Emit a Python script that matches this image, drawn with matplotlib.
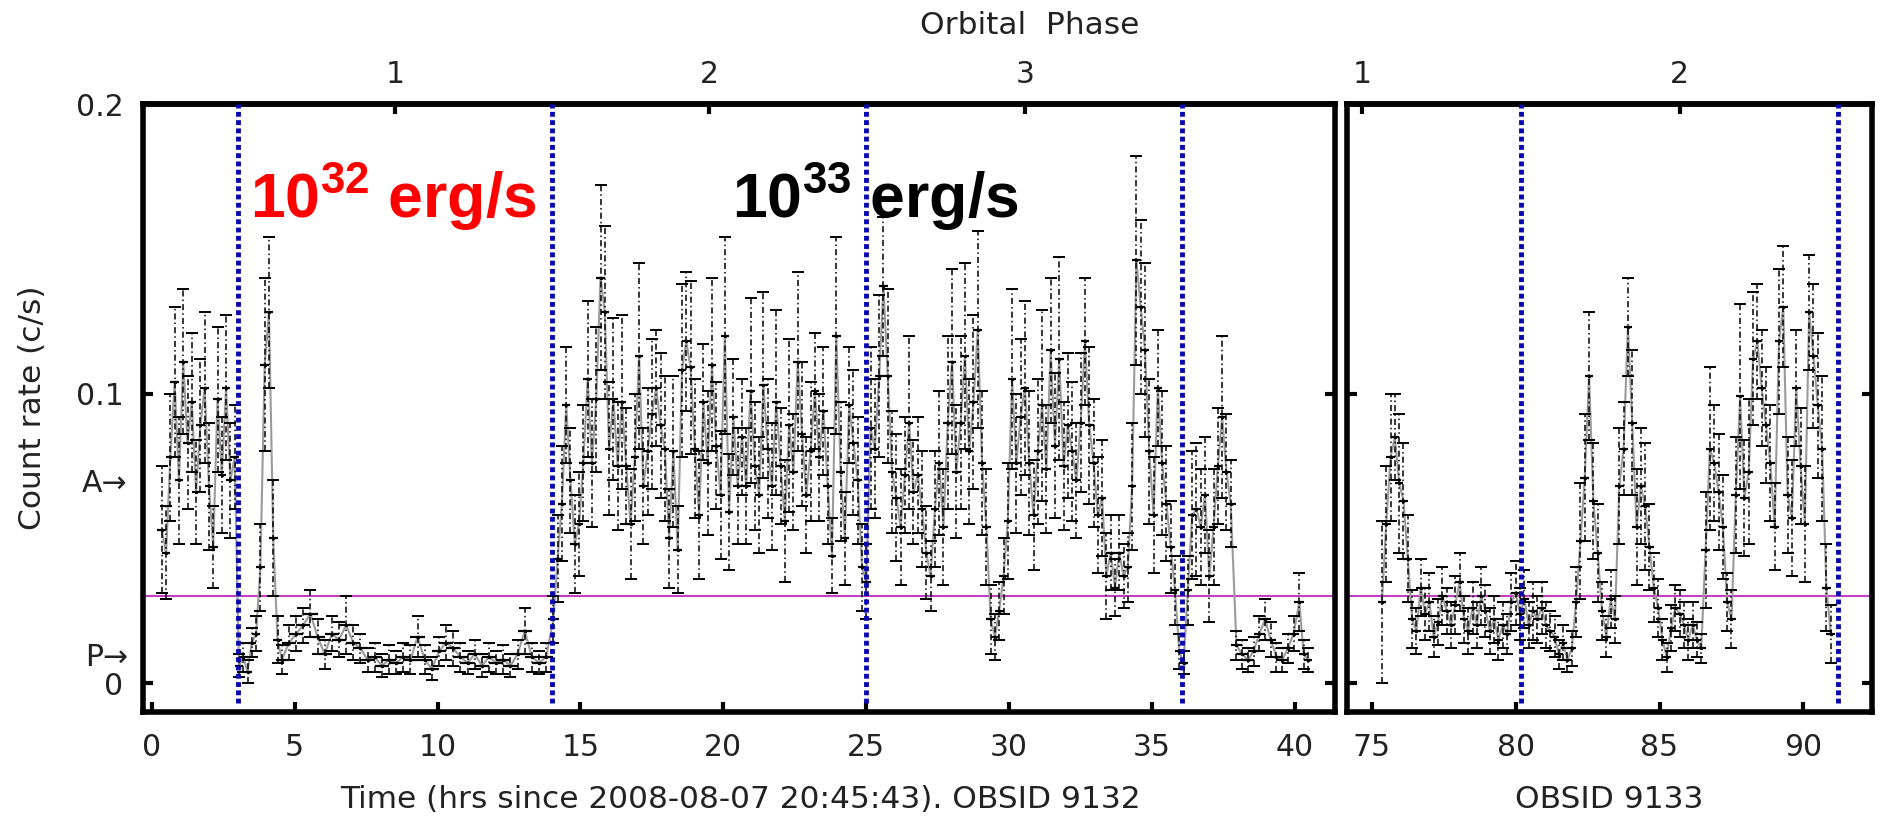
import numpy as np
import matplotlib
matplotlib.use('Agg')
import matplotlib.pyplot as plt

plt.rcParams['font.family'] = ['DejaVu Sans']
plt.rcParams['mathtext.fontset'] = 'custom'
plt.rcParams['mathtext.bf'] = 'Liberation Sans:bold'
plt.rcParams['mathtext.rm'] = 'Liberation Sans'

# ---- OBSID 9132 (hrs since 2008-08-07 20:45:43) ----
t_9132 = [
    0.35, 0.50, 0.65, 0.80, 0.95, 1.10, 1.25, 1.40, 1.55, 1.70, 1.85, 2.00, 2.15, 2.30, 2.45, 2.60, 2.75, 2.90,
    3.05, 3.20, 3.35, 3.50, 3.65, 3.80, 3.95, 4.10, 4.25, 4.40,
    4.55, 4.80, 5.05, 5.30, 5.55, 5.80, 6.05, 6.30, 6.55, 6.80,
    7.05, 7.30, 7.55, 7.80, 8.05, 8.30, 8.55, 8.80, 9.05, 9.30,
    9.55, 9.80, 10.05, 10.30, 10.55, 10.80, 11.05, 11.30, 11.55, 11.80,
    12.05, 12.30, 12.55, 12.80, 13.05, 13.30, 13.55, 13.80,
    14.05, 14.20, 14.35, 14.50, 14.65, 14.80, 14.95, 15.10, 15.25, 15.40,
    15.55, 15.70, 15.85, 16.00, 16.15, 16.30, 16.45, 16.60, 16.75, 16.90,
    17.05, 17.20, 17.35, 17.50, 17.65, 17.80, 17.95, 18.10, 18.25, 18.40,
    18.55, 18.70, 18.85, 19.00, 19.15, 19.30, 19.45, 19.60, 19.75, 19.90,
    20.05, 20.20, 20.35, 20.50, 20.65, 20.80, 20.95, 21.10, 21.25, 21.40,
    21.55, 21.70, 21.85, 22.00, 22.15, 22.30, 22.45, 22.60, 22.75, 22.90,
    23.05, 23.20, 23.35, 23.50, 23.65, 23.80, 23.95, 24.10, 24.25, 24.40,
    24.55, 24.70, 24.85, 25.00, 25.15, 25.30, 25.45, 25.60, 25.75, 25.90,
    26.05, 26.20, 26.35, 26.50, 26.65, 26.80, 26.95, 27.10, 27.25, 27.40,
    27.55, 27.70, 27.85, 28.00, 28.15, 28.30, 28.45, 28.60, 28.75, 28.90,
    29.05, 29.20, 29.35, 29.50, 29.65, 29.80, 29.95, 30.10, 30.25, 30.40,
    30.55, 30.70, 30.85, 31.00, 31.15, 31.30, 31.45, 31.60, 31.75, 31.90,
    32.05, 32.20, 32.35, 32.50, 32.65, 32.80, 32.95, 33.10, 33.25, 33.40,
    33.55, 33.70, 33.85, 34.00, 34.15, 34.30, 34.45, 34.60, 34.75, 34.90,
    35.05, 35.20, 35.35, 35.50, 35.65, 35.80, 35.95, 36.10, 36.25, 36.40,
    36.55, 36.70, 36.85, 37.00, 37.15, 37.30, 37.45, 37.60, 37.75,
    37.95, 38.15, 38.35, 38.55, 38.75, 38.95, 39.15, 39.35, 39.55, 39.75,
    39.95, 40.15, 40.30, 40.45,
]
rate_9132 = [
    .053, .045, .078, .104, .070, .111, .083, .097, .066, .089, .102, .068, .047, .098, .072, .102, .070, .078,
    .006, .009, .004, .014, .017, .040, .110, .128, .050, .015,
    .008, .014, .017, .020, .024, .016, .010, .017, .015, .020,
    .014, .012, .008, .009, .006, .008, .007, .009, .008, .016,
    .008, .005, .011, .014, .012, .009, .007, .010, .006, .009,
    .007, .008, .006, .010, .018, .009, .007, .009,
    .022, .043, .062, .096, .070, .048, .055, .076, .105, .076,
    .098, .140, .128, .081, .098, .075, .097, .075, .055, .078,
    .113, .068, .080, .093, .102, .089, .081, .050, .080, .046,
    .108, .118, .109, .081, .058, .097, .076, .110, .082, .065,
    .120, .059, .092, .068, .085, .068, .101, .075, .065, .103,
    .081, .068, .097, .075, .056, .089, .073, .111, .086, .065,
    .080, .101, .078, .094, .068, .044, .120, .073, .050, .096,
    .083, .070, .040, .035, .088, .081, .106, .137, .106, .073,
    .064, .054, .072, .090, .066, .072, .060, .045, .037, .060,
    .076, .054, .090, .111, .073, .090, .113, .080, .097, .122,
    .076, .054, .022, .016, .025, .037, .056, .105, .076, .092,
    .102, .076, .058, .080, .096, .074, .115, .082, .112, .075,
    .089, .080, .070, .090, .118, .089, .076, .058, .064, .037,
    .045, .033, .045, .037, .040, .068, .146, .130, .115, .080,
    .058, .102, .076, .062, .047, .032, .011, .007, .032, .058,
    .060, .054, .065, .037, .054, .075, .092, .073, .062,
    .013, .010, .008, .011, .017, .022, .015, .009, .008, .012,
    .017, .028, .010, .008,
]
err_9132 = [
    .022, .016, .022, .026, .022, .025, .023, .024, .018, .023, .026, .022, .014, .025, .020, .025, .020, .018,
    .004, .005, .004, .005, .006, .015, .030, .026, .020, .008,
    .005, .006, .006, .006, .008, .006, .005, .006, .006, .010,
    .006, .005, .004, .005, .004, .005, .004, .005, .005, .007,
    .005, .004, .005, .006, .006, .005, .004, .005, .004, .005,
    .004, .005, .004, .005, .008, .005, .004, .005,
    .008, .015, .020, .020, .018, .017, .018, .020, .027, .022,
    .025, .032, .030, .023, .028, .022, .030, .020, .019, .022,
    .032, .020, .022, .026, .020, .025, .025, .017, .026, .015,
    .030, .024, .030, .024, .022, .020, .025, .030, .022, .022,
    .034, .020, .020, .020, .020, .020, .032, .022, .020, .032,
    .024, .022, .032, .020, .021, .030, .020, .031, .025, .020,
    .024, .020, .022, .022, .020, .013, .034, .024, .016, .020,
    .025, .022, .015, .013, .028, .024, .028, .024, .030, .021,
    .022, .020, .020, .030, .018, .020, .020, .016, .012, .020,
    .025, .020, .030, .032, .023, .030, .032, .025, .030, .034,
    .025, .020, .012, .008, .010, .013, .020, .031, .024, .027,
    .030, .025, .019, .025, .033, .022, .025, .025, .035, .022,
    .025, .024, .020, .024, .022, .027, .022, .020, .020, .015,
    .013, .010, .013, .011, .012, .022, .036, .030, .030, .025,
    .020, .020, .025, .020, .016, .012, .006, .004, .012, .022,
    .023, .020, .020, .016, .020, .020, .028, .020, .015,
    .005, .005, .004, .005, .006, .007, .006, .005, .004, .005,
    .006, .010, .005, .004,
]

# ---- OBSID 9133 ----
t_9133 = [
    75.35, 75.50, 75.65, 75.80, 75.95, 76.10, 76.25, 76.40, 76.55, 76.70,
    76.85, 77.00, 77.15, 77.30, 77.45, 77.60, 77.75, 77.90, 78.05, 78.20,
    78.35, 78.50, 78.65, 78.80, 78.95, 79.10, 79.25, 79.40, 79.55, 79.70,
    79.85, 80.00, 80.15, 80.30, 80.45, 80.60, 80.75, 80.90, 81.05, 81.20,
    81.35, 81.50, 81.65, 81.80, 81.95, 82.10, 82.25, 82.40, 82.55, 82.70,
    82.85, 83.00, 83.15, 83.30, 83.45, 83.60, 83.75, 83.90, 84.05, 84.20,
    84.35, 84.50, 84.65, 84.80, 84.95, 85.10, 85.25, 85.40, 85.55, 85.70,
    85.85, 86.00, 86.15, 86.30, 86.45, 86.60, 86.75, 86.90, 87.05, 87.20,
    87.35, 87.50, 87.65, 87.80, 87.95, 88.10, 88.25, 88.40, 88.55, 88.70,
    88.85, 89.00, 89.15, 89.30, 89.45, 89.60, 89.75, 89.90, 90.05, 90.20,
    90.35, 90.50, 90.65, 90.80, 90.95,
]
rate_9133 = [
    .028, .055, .078, .085, .069, .063, .043, .022, .018, .033,
    .024, .028, .016, .021, .030, .025, .020, .027, .035, .022,
    .018, .026, .020, .030, .025, .018, .022, .015, .020, .017,
    .028, .031, .024, .029, .020, .025, .022, .026, .020, .018,
    .016, .010, .014, .008, .012, .028, .049, .071, .106, .063,
    .045, .025, .016, .029, .022, .068, .081, .123, .090, .054,
    .068, .061, .047, .033, .026, .015, .009, .019, .026, .024,
    .020, .015, .020, .015, .012, .046, .081, .076, .066, .054,
    .028, .022, .065, .099, .064, .073, .112, .118, .102, .089,
    .076, .054, .118, .130, .065, .057, .102, .075, .055, .128,
    .113, .096, .081, .033, .017,
]
err_9133 = [
    .028, .020, .022, .015, .024, .020, .015, .010, .008, .010,
    .009, .010, .007, .008, .010, .008, .008, .010, .010, .008,
    .008, .009, .008, .010, .009, .008, .008, .007, .008, .007,
    .010, .011, .009, .010, .008, .010, .008, .009, .008, .007,
    .007, .005, .006, .004, .006, .012, .020, .022, .022, .020,
    .017, .010, .007, .010, .008, .020, .016, .017, .025, .020,
    .020, .022, .015, .012, .010, .007, .005, .008, .008, .008,
    .008, .007, .008, .006, .005, .020, .028, .020, .020, .018,
    .010, .010, .020, .032, .020, .025, .023, .020, .020, .020,
    .020, .015, .025, .021, .020, .020, .020, .020, .020, .020,
    .025, .025, .025, .015, .010,
]

# orbital phase marks and phase boundaries (blue dotted lines)
phase_t_9132 = [8.5, 19.5, 30.55]
phase_lab_9132 = ['1', '2', '3']
phase_t_9133 = [74.66, 85.7]
phase_lab_9133 = ['1', '2']
bounds_9132 = [3.0, 14.0, 25.0, 36.05]
bounds_9133 = [80.2, 91.2]
level_line = 0.03
level_A, level_P = 0.07, 0.01

TXT = '#222222'


def light_curve(ax, t, r, e):
    t = np.asarray(t)
    half = np.gradient(t)
    ax.plot(t, r, color='#9b9b9b', lw=1.5, zorder=2)
    eb = ax.errorbar(t, r, yerr=e, fmt='none', ecolor='k', elinewidth=1.1,
                     capsize=4, capthick=1.4, zorder=3)
    eb[2][0].set_linestyle((0, (4, 2, 1, 2)))
    ax.errorbar(t, r, xerr=half, fmt='.', color='k', ms=3, elinewidth=1.6,
                capsize=0, zorder=4)


def style(ax, bounds, phase_t, phase_lab, xticks):
    ax.set_ylim(-0.01, 0.2)
    ax.axhline(level_line, color='#c23ec2', lw=1.5, zorder=1)
    for b in bounds:
        ax.axvline(b, ymin=0.015, ymax=1, color='#0808b0', lw=3.5,
                   ls=(0, (1, 0.7)), zorder=5)
    for s in ax.spines.values():
        s.set_linewidth(4)
    ax.set_xticks(xticks)
    ax.tick_params(direction='in', width=3, length=7, labelsize=21.5,
                   labelcolor=TXT, color='k', right=True, top=False)
    ax.tick_params(axis='x', pad=15)
    top = ax.secondary_xaxis('top')
    top.set_xticks(phase_t, phase_lab)
    top.tick_params(direction='in', width=3, length=7, labelsize=21.5,
                    labelcolor=TXT, pad=11)
    top.spines['top'].set_linewidth(4)


fig = plt.figure(figsize=(18.83, 8.19), dpi=100)
ax1 = fig.add_axes([0.0759, 0.1306, 0.6331, 0.7424])
ax2 = fig.add_axes([0.7151, 0.1306, 0.2793, 0.7424])

light_curve(ax1, t_9132, rate_9132, err_9132)
light_curve(ax2, t_9133, rate_9133, err_9133)

ax1.set_xlim(-0.31, 41.4)
ax2.set_xlim(74.12, 92.4)
style(ax1, bounds_9132, phase_t_9132, phase_lab_9132, list(range(0, 41, 5)))
style(ax2, bounds_9133, phase_t_9133, phase_lab_9133, [75, 80, 85, 90])

ax1.set_yticks([0, 0.1, 0.2], ['0', '0.1', '0.2'])
ax1.set_yticks([level_P, level_A], ['P\u2192', 'A\u2192'], minor=True)
ax1.tick_params(axis='y', pad=14)
ax1.tick_params(axis='y', which='minor', length=0, pad=11, labelsize=21.5,
                labelcolor=TXT)
ax2.set_yticks([0, 0.1])
ax2.tick_params(axis='y', labelleft=False)

ax1.text(3.44, 0.1607, r'$\mathbf{10^{32}}$ erg/s', color='#ff0000',
         fontsize=45, family='Liberation Sans', weight='bold',
         ha='left', va='baseline', zorder=6)
ax1.text(20.3, 0.1607, r'$\mathbf{10^{33}}$ erg/s', color='#000000',
         fontsize=45, family='Liberation Sans', weight='bold',
         ha='left', va='baseline', zorder=6)

fig.text(0.0175, 0.502, 'Count rate (c/s)', rotation=90, ha='center',
         va='center', fontsize=22.5, color=TXT)
fig.text(740 / 1883, 1 - 800 / 819, 'Time (hrs since 2008-08-07 20:45:43). OBSID 9132',
         ha='center', va='center', fontsize=22.5, color=TXT)
fig.text(1609 / 1883, 1 - 800 / 819, 'OBSID 9133', ha='center', va='center',
         fontsize=22.5, color=TXT)
fig.text(1030 / 1883, 1 - 26 / 819, 'Orbital  Phase', ha='center', va='center',
         fontsize=22.5, color=TXT)

fig.savefig('out.png', dpi=100)
